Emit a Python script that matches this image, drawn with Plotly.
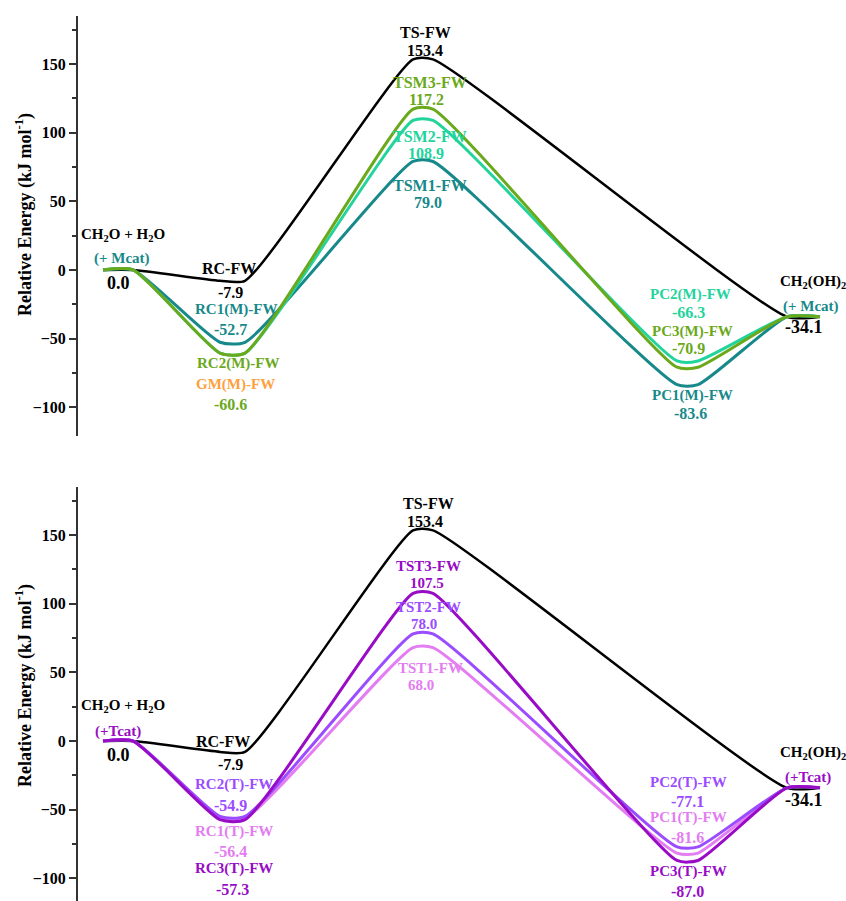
import plotly.graph_objects as go

# ---------------- data ----------------
STAGES = ["R", "RC", "TS", "PC", "P"]
STAGE_SPAN = {"R": (103, 133), "RC": (220, 245), "TS": (413, 433), "PC": (677, 698), "P": (787, 820)}

black_energy = [0.0, -7.9, 153.4, None, -34.1]

M1_energy = [0.0, -52.7, 79.0, -83.6, -34.1]
M2_energy = [0.0, -60.6, 108.9, -66.3, -34.1]
M3_energy = [0.0, -60.6, 117.2, -70.9, -34.1]

T1_energy = [0.0, -56.4, 68.0, -81.6, -34.1]
T2_energy = [0.0, -54.9, 78.0, -77.1, -34.1]
T3_energy = [0.0, -57.3, 107.5, -87.0, -34.1]

TICK_VALS = [-100, -50, 0, 50, 100, 150]
TICK_TEXT = ["\u2212100", "\u221250", "0", "50", "100", "150"]
Y_TITLE = "Relative Energy (kJ mol<sup>-1</sup>)"

C_BLACK = "#000000"
C_TEAL = "#17898a"
C_MINT = "#22d49c"
C_GREEN = "#6aa91c"
C_ORANGE = "#ffa040"
C_PINK = "#e47cf2"
C_VIOLET = "#9b4cff"
C_PURPLE = "#980cc6"

FONT = "Liberation Serif, Times New Roman, serif"

top_series = [(black_energy, C_BLACK, 2.5), (M1_energy, C_TEAL, 3), (M2_energy, C_MINT, 3), (M3_energy, C_GREEN, 3)]
bot_series = [(black_energy, C_BLACK, 2.5), (T1_energy, C_PINK, 3), (T2_energy, C_VIOLET, 3), (T3_energy, C_PURPLE, 3)]

fig = go.Figure()


def add_path(energies, color, width, xa, ya):
    xs, ys = [], []
    for st, e in zip(STAGES, energies):
        if e is None:
            continue
        a, b = STAGE_SPAN[st]
        xs += [a, b]
        ys += [e, e]
    fig.add_trace(go.Scatter(x=xs, y=ys, mode="lines", xaxis=xa, yaxis=ya,
                             line=dict(color=color, width=width, shape="spline", smoothing=0.6),
                             hoverinfo="skip", showlegend=False))


for e, c, w in top_series:
    add_path(e, c, w, "x", "y")
for e, c, w in bot_series:
    add_path(e, c, w, "x2", "y2")


def center(st):
    a, b = STAGE_SPAN[st]
    return (a + b) / 2


def val(series, st):
    return series[STAGES.index(st)]


annots = []


def lab(text, st, energy, dy, color, dx=0, size=16, panel=1):
    annots.append(dict(text=text, x=center(st), y=energy, xref="x" if panel == 1 else "x2",
                       yref="y" if panel == 1 else "y2", xshift=dx, yshift=dy, showarrow=False,
                       xanchor="center", yanchor="middle",
                       font=dict(family=FONT, size=size, color=color, weight="bold")))


def num(series, st):
    return f"{val(series, st):.1f}"


# ---- top panel labels ----
lab("CH<sub>2</sub>O + H<sub>2</sub>O", "R", val(black_energy, "R"), 35, C_BLACK, dx=5, size=15)
lab("(+ Mcat)", "R", val(black_energy, "R"), 11, C_TEAL, dx=4, size=15)
lab(num(black_energy, "R"), "R", val(black_energy, "R"), -13, C_BLACK, size=18)

lab("RC-FW", "RC", val(black_energy, "RC"), 12, C_BLACK, dx=-4)
lab(num(black_energy, "RC"), "RC", val(black_energy, "RC"), -12, C_BLACK, dx=-2)
lab("RC1(M)-FW", "RC", val(M1_energy, "RC"), 33, C_TEAL, dx=3, size=15)
lab(num(M1_energy, "RC"), "RC", val(M1_energy, "RC"), 13, C_TEAL, dx=-2)
lab("RC2(M)-FW", "RC", val(M3_energy, "RC"), -10, C_GREEN, dx=5, size=15)
lab("GM(M)-FW", "RC", val(M3_energy, "RC"), -31, C_ORANGE, dx=3, size=15)
lab(num(M3_energy, "RC"), "RC", val(M3_energy, "RC"), -51, C_GREEN, dx=-2)

lab("TS-FW", "TS", val(black_energy, "TS"), 27, C_BLACK, dx=2)
lab(num(black_energy, "TS"), "TS", val(black_energy, "TS"), 9, C_BLACK, dx=2)
lab("TSM3-FW", "TS", val(M3_energy, "TS"), 27, C_GREEN, dx=7)
lab(num(M3_energy, "TS"), "TS", val(M3_energy, "TS"), 10, C_GREEN, dx=3)
lab("TSM2-FW", "TS", val(M2_energy, "TS"), -16, C_MINT, dx=7)
lab(num(M2_energy, "TS"), "TS", val(M2_energy, "TS"), -33, C_MINT, dx=3)
lab("TSM1-FW", "TS", val(M1_energy, "TS"), -24, C_TEAL, dx=7)
lab(num(M1_energy, "TS"), "TS", val(M1_energy, "TS"), -41, C_TEAL, dx=5)

lab("PC2(M)-FW", "PC", val(M2_energy, "PC"), 66, C_MINT, dx=3, size=15)
lab(num(M2_energy, "PC"), "PC", val(M2_energy, "PC"), 48, C_MINT, dx=1)
lab("PC3(M)-FW", "PC", val(M3_energy, "PC"), 36, C_GREEN, dx=5, size=15)
lab(num(M3_energy, "PC"), "PC", val(M3_energy, "PC"), 19, C_GREEN, dx=1)
lab("PC1(M)-FW", "PC", val(M1_energy, "PC"), -11, C_TEAL, dx=5, size=15)
lab(num(M1_energy, "PC"), "PC", val(M1_energy, "PC"), -29, C_TEAL, dx=3)

lab("CH<sub>2</sub>(OH)<sub>2</sub>", "P", val(black_energy, "P"), 35, C_BLACK, dx=9, size=15)
lab("(+ Mcat)", "P", val(black_energy, "P"), 10, C_TEAL, dx=7, size=15)
lab(num(black_energy, "P"), "P", val(black_energy, "P"), -10, C_BLACK, size=18)

# ---- bottom panel labels ----
lab("CH<sub>2</sub>O + H<sub>2</sub>O", "R", val(black_energy, "R"), 35, C_BLACK, dx=5, size=15, panel=2)
lab("(+Tcat)", "R", val(black_energy, "R"), 10, C_PURPLE, size=15, panel=2)
lab(num(black_energy, "R"), "R", val(black_energy, "R"), -14, C_BLACK, size=18, panel=2)

lab("RC-FW", "RC", val(black_energy, "RC"), 10, C_BLACK, dx=-10, panel=2)
lab(num(black_energy, "RC"), "RC", val(black_energy, "RC"), -13, C_BLACK, dx=-2, panel=2)
lab("RC2(T)-FW", "RC", val(T2_energy, "RC"), 32, C_VIOLET, dx=1, size=15, panel=2)
lab(num(T2_energy, "RC"), "RC", val(T2_energy, "RC"), 11, C_VIOLET, dx=-2, panel=2)
lab("RC1(T)-FW", "RC", val(T1_energy, "RC"), -13.5, C_PINK, dx=1, size=15, panel=2)
lab(num(T1_energy, "RC"), "RC", val(T1_energy, "RC"), -33.5, C_PINK, dx=-2, panel=2)
lab("RC3(T)-FW", "RC", val(T3_energy, "RC"), -49, C_PURPLE, dx=1, size=15, panel=2)
lab(num(T3_energy, "RC"), "RC", val(T3_energy, "RC"), -70, C_PURPLE, panel=2)

lab("TS-FW", "TS", val(black_energy, "TS"), 27, C_BLACK, dx=5, panel=2)
lab(num(black_energy, "TS"), "TS", val(black_energy, "TS"), 9, C_BLACK, dx=2, panel=2)
lab("TST3-FW", "TS", val(T3_energy, "TS"), 27, C_PURPLE, dx=5, size=15, panel=2)
lab(num(T3_energy, "TS"), "TS", val(T3_energy, "TS"), 10, C_PURPLE, dx=4, size=15, panel=2)
lab("TST2-FW", "TS", val(T2_energy, "TS"), 27, C_VIOLET, dx=5, size=15, panel=2)
lab(num(T2_energy, "TS"), "TS", val(T2_energy, "TS"), 10, C_VIOLET, dx=1, size=15, panel=2)
lab("TST1-FW", "TS", val(T1_energy, "TS"), -20, C_PINK, dx=7, size=15, panel=2)
lab(num(T1_energy, "TS"), "TS", val(T1_energy, "TS"), -37, C_PINK, dx=-2, size=15, panel=2)

lab("PC2(T)-FW", "PC", val(T2_energy, "PC"), 64, C_VIOLET, dx=1, size=15, panel=2)
lab(num(T2_energy, "PC"), "PC", val(T2_energy, "PC"), 45, C_VIOLET, panel=2)
lab("PC1(T)-FW", "PC", val(T1_energy, "PC"), 36, C_PINK, dx=1, size=15, panel=2)
lab(num(T1_energy, "PC"), "PC", val(T1_energy, "PC"), 16, C_PINK, panel=2)
lab("PC3(T)-FW", "PC", val(T3_energy, "PC"), -11.5, C_PURPLE, dx=1, size=15, panel=2)
lab(num(T3_energy, "PC"), "PC", val(T3_energy, "PC"), -31.5, C_PURPLE, panel=2)

lab("CH<sub>2</sub>(OH)<sub>2</sub>", "P", val(black_energy, "P"), 35, C_BLACK, dx=9, size=15, panel=2)
lab("(+Tcat)", "P", val(black_energy, "P"), 10, C_PURPLE, dx=4, size=15, panel=2)
lab(num(black_energy, "P"), "P", val(black_energy, "P"), -12, C_BLACK, size=18, panel=2)

# ---- y-axis titles (as rotated annotations for exact placement) ----
for yref, dy in (("y domain", 11), ("y2 domain", 8)):
    annots.append(dict(text=Y_TITLE, xref="paper", x=-0.0703, yref=yref, y=0.5, yshift=dy,
                       textangle=-90, showarrow=False, xanchor="center", yanchor="middle",
                       font=dict(family=FONT, size=18, color="black", weight="bold")))

yaxis_common = dict(
    showline=True, linecolor="#333333", linewidth=2,
    ticks="outside", ticklen=7, tickwidth=2, tickcolor="#333333",
    tickmode="array", tickvals=TICK_VALS, ticktext=TICK_TEXT,
    minor=dict(ticks="outside", ticklen=4, tickwidth=1.5, tickcolor="#333333", dtick=25, tick0=0),
    showgrid=False, zeroline=False, automargin=False,
    tickfont=dict(family=FONT, size=16, color="black", weight="bold"),
)

fig.update_layout(
    width=846, height=901,
    margin=dict(l=78, r=0, t=0, b=0),
    paper_bgcolor="white", plot_bgcolor="white",
    xaxis=dict(domain=[0, 1], range=[78, 846], visible=False),
    xaxis2=dict(domain=[0, 1], range=[78, 846], visible=False, anchor="y2"),
    yaxis=dict(domain=[0.5161, 0.98224], range=[-121, 185], anchor="x", **yaxis_common),
    yaxis2=dict(domain=[0.0, 0.45949], range=[-116.5, 185], anchor="x2", **yaxis_common),
    annotations=annots,
    showlegend=False,
)

fig.write_html("out.html", config={"displayModeBar": False},
               post_script="document.body.style.margin='0';document.body.style.overflow='hidden';")
